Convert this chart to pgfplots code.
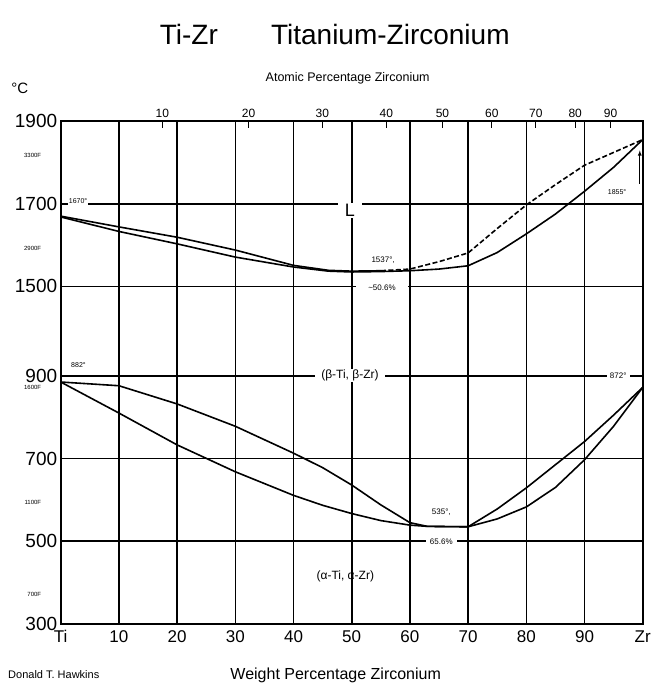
\documentclass[border=0pt]{standalone}
\usepackage{pgfplots}
\pgfplotsset{compat=1.18}
\usepackage{fontspec}
\setmainfont{Liberation Sans}
\newcommand{\fs}[1]{\fontsize{#1}{#1}\selectfont}
\begin{document}
\begin{tikzpicture}
\begin{axis}[
  name=main,
  scale only axis,
  width=582pt, height=503pt,
  xmin=0, xmax=100,
  ymin=300, ymax=1516,
  y filter/.expression={y>1200 ? y-384 : y},
  xtick={0,10,...,100},
  xticklabels={Ti,10,20,30,40,50,60,70,80,90,Zr},
  ytick={300,500,700,900,1116,1316,1516},
  yticklabels={300,500,700,900,1500,1700,1900},
  tick style={draw=none},
  grid=major,
  grid style={black, line width=1.6pt},
  axis line style={line width=2pt},
  xticklabel style={font=\fs{17}, yshift=-3pt},
  yticklabel style={font=\fs{19}},
  /pgf/number format/assume math mode=true,
  clip=false,
]
% liquidus / solidus (upper section)
\addplot[black, line width=1.6pt, line join=round] coordinates {(0,1670)(10,1644)(20,1619)(30,1588)(40,1551)(46,1539)(50,1537)(55,1538)};
\addplot[black, line width=1.6pt, line join=round] coordinates {(0,1668)(10,1633)(20,1603)(30,1571)(40,1547)(46,1537)(50,1535)(55,1536)(60,1538)(65,1542)(70,1550)(75,1582)(80,1627)(85,1675)(90,1730)(95,1788)(100,1855)};
\addplot[black, line width=1.6pt, dash pattern=on 5pt off 2.5pt, line join=round] coordinates {(55,1538)(60,1542)(65,1560)(70,1581)(75,1640)(80,1697)(85,1746)(90,1793)(95,1824)(100,1855)};
% transus curves (lower section)
\addplot[black, line width=1.6pt, line join=round] coordinates {(0,885)(10,876)(20,832)(30,778)(40,713)(45,678)(50,636)(55,588)(60,545)(63,536)(70,535)(75,578)(80,629)(85,685)(90,741)(95,805)(100,872)};
\addplot[black, line width=1.6pt, line join=round] coordinates {(0,885)(10,810)(20,733)(30,668)(40,611)(45,587)(50,567)(55,550)(60,539)(63,536)(70,535)(75,554)(80,583)(85,630)(90,697)(95,778)(100,872)};
% labels (y in plotted coordinates: T-384 above the break)
\node[fill=white, inner xsep=7pt, inner ysep=1pt, font=\fs{18}] at (axis cs:49.7,1300) {L};
\node[fill=white, inner sep=1pt, anchor=west, font=\fs{7}] at (axis cs:1.2,1322) {1670°};
\node[font=\fs{8}] at (axis cs:55.4,1180) {1537°,};
\node[fill=white, inner xsep=12pt, inner ysep=1pt, font=\fs{8}] at (axis cs:55.2,1114) {\textasciitilde 50.6\%};
\node[font=\fs{7}] at (axis cs:95.6,1343) {1855°};
\draw[line width=0.8pt, -latex] (axis cs:99.5,1364) -- (axis cs:99.5,1445);
\node[anchor=west, font=\fs{7}] at (axis cs:1.2,927) {882°};
\node[fill=white, inner xsep=3pt, inner ysep=1pt, font=\fs{8}] at (axis cs:95.8,900) {872°};
\node[fill=white, inner xsep=6pt, inner ysep=1pt, font=\fs{12}] at (axis cs:49.7,900) {(β-Ti, β-Zr)};
\node[font=\fs{12}] at (axis cs:48.9,415) {(α-Ti, α-Zr)};
\node[font=\fs{8}] at (axis cs:65.4,571) {535°,};
\node[fill=white, inner xsep=4pt, inner ysep=1pt, font=\fs{8}] at (axis cs:65.4,498) {65.6\%};
% Fahrenheit marks
\node[anchor=east, font=\fs{6}] at ([xshift=-16pt]axis cs:0,1432) {3300F};
\node[anchor=east, font=\fs{6}] at ([xshift=-16pt]axis cs:0,1209) {2900F};
\node[anchor=east, font=\fs{6}] at ([xshift=-16pt]axis cs:0,871) {1600F};
\node[anchor=east, font=\fs{6}] at ([xshift=-16pt]axis cs:0,593) {1100F};
\node[anchor=east, font=\fs{6}] at ([xshift=-16pt]axis cs:0,371) {700F};
\end{axis}
\begin{axis}[
  scale only axis,
  width=582pt, height=503pt,
  xmin=0, xmax=100, ymin=0, ymax=1,
  axis x line*=top,
  hide y axis,
  axis line style={draw=none},
  xtick={17.475,32.27,44.96,55.96,65.59,74.08,81.64,88.40,94.49},
  xticklabels={10,20,30,40,50,60,70,80,90},
  xtick align=inside,
  major tick length=7pt,
  tick style={black, line width=1.2pt},
  xticklabel style={font=\fs{12}},
  /pgf/number format/assume math mode=true,
]
\end{axis}
\node[font=\fs{28}] at ([xshift=-17pt, yshift=86pt]main.north) {Ti-Zr\hspace{1.9em}Titanium-Zirconium};
\node[font=\fs{12.5}] at ([xshift=-4pt, yshift=43pt]main.north) {Atomic Percentage Zirconium};
\node[font=\fs{15}] at ([xshift=-41pt, yshift=33pt]main.north west) {°C};
\node[font=\fs{16}] at ([xshift=-16pt, yshift=-51pt]main.south) {Weight Percentage Zirconium};
\node[anchor=west, font=\fs{11}] at ([xshift=-56pt, yshift=-51pt]main.south west) {Donald T. Hawkins};
\pgfresetboundingbox
\path ([xshift=-60.7pt, yshift=-68pt]main.south west) rectangle ([xshift=8.3pt, yshift=121pt]main.north east);
\end{tikzpicture}
\end{document}
